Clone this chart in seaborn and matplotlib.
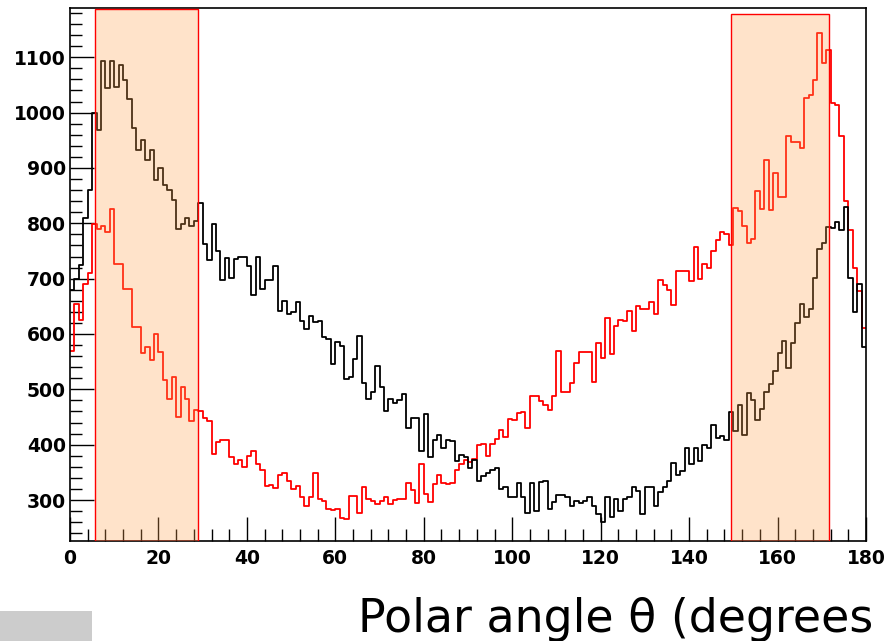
import numpy as np
import pandas as pd
import matplotlib
matplotlib.use("Agg")
import matplotlib.pyplot as plt
import seaborn as sns
from matplotlib.patches import Rectangle
from matplotlib.ticker import MultipleLocator

# 1 degree bins from 0 to 180
bin_edges = np.arange(0, 181, 1)

# counts per bin, black histogram
black_counts = [
    680, 700, 725, 810, 860, 1000, 968, 1094, 1044, 1094,
    1047, 1086, 1059, 1024, 972, 932, 950, 914, 932, 878,
    900, 870, 860, 843, 790, 799, 810, 796, 805, 836,
    763, 734, 799, 750, 698, 738, 702, 736, 740, 740,
    722, 670, 740, 682, 697, 697, 722, 642, 660, 637,
    639, 657, 624, 609, 633, 621, 624, 594, 591, 545,
    586, 579, 519, 523, 555, 597, 512, 482, 496, 543,
    504, 461, 482, 476, 480, 491, 430, 449, 449, 389,
    456, 377, 409, 417, 394, 409, 406, 370, 382, 377,
    358, 372, 334, 343, 349, 355, 358, 320, 323, 306,
    306, 330, 305, 276, 330, 280, 332, 334, 284, 297,
    309, 309, 306, 290, 299, 294, 298, 305, 290, 275,
    260, 306, 269, 302, 281, 302, 305, 324, 317, 275,
    323, 324, 290, 315, 324, 334, 367, 345, 353, 394,
    365, 394, 370, 400, 394, 435, 412, 415, 409, 459,
    425, 472, 417, 494, 481, 445, 464, 496, 509, 533,
    565, 588, 539, 584, 620, 655, 631, 646, 702, 753,
    765, 794, 791, 803, 788, 829, 702, 640, 690, 577,
]

# counts per bin, red histogram
red_counts = [
    570, 655, 625, 690, 710, 799, 790, 796, 784, 825,
    726, 726, 682, 682, 613, 613, 565, 577, 553, 600,
    567, 516, 483, 522, 450, 504, 483, 442, 462, 460,
    449, 443, 383, 404, 408, 408, 377, 365, 372, 359,
    380, 389, 365, 355, 326, 327, 321, 345, 348, 335,
    320, 326, 305, 290, 305, 348, 302, 299, 284, 282,
    284, 268, 265, 308, 308, 277, 323, 301, 298, 293,
    298, 305, 292, 300, 302, 302, 331, 319, 295, 366,
    311, 296, 329, 345, 331, 329, 331, 355, 365, 372,
    368, 375, 399, 401, 380, 401, 411, 427, 414, 447,
    445, 458, 459, 431, 488, 488, 479, 471, 463, 488,
    569, 495, 495, 511, 547, 567, 567, 567, 513, 584,
    557, 629, 563, 614, 625, 623, 642, 606, 651, 646,
    646, 657, 636, 697, 688, 679, 652, 714, 714, 714,
    696, 757, 700, 727, 720, 750, 770, 784, 781, 760,
    828, 823, 796, 764, 772, 858, 825, 914, 824, 890,
    848, 848, 958, 947, 947, 936, 1026, 1032, 1059, 1144,
    1089, 1114, 1018, 1014, 958, 840, 788, 719, 677, 611,
]

# shaded angle windows: (theta_min, theta_max, y_min, y_max)
windows = [(5.7, 29.0, 226, 1188), (149.5, 171.7, 226, 1179)]

y_range = (226, 1189)

sns.set_style("ticks")
plt.rcParams['font.family'] = ['DejaVu Sans']
plt.rcParams['text.color'] = 'black'
plt.rcParams['xtick.color'] = 'black'
plt.rcParams['ytick.color'] = 'black'

df = pd.DataFrame({'theta': bin_edges[:-1] + 0.5,
                   'black': black_counts,
                   'red': red_counts})

fig = plt.figure(figsize=(8.87, 6.41), dpi=100)
ax = fig.add_axes([70/887, 1 - 541/641, 796/887, 533/641])

sns.histplot(data=df, x='theta', weights='red', binwidth=1, binrange=(0, 180),
             element='step', fill=False, color='red', linewidth=1.3, ax=ax)
sns.histplot(data=df, x='theta', weights='black', binwidth=1, binrange=(0, 180),
             element='step', fill=False, color='black', linewidth=1.3, ax=ax)

for x0, x1, y0, y1 in windows:
    ax.add_patch(Rectangle((x0, y0), x1 - x0, y1 - y0,
                           facecolor=(1.0, 0.647, 0.314, 0.3),
                           edgecolor='red', linewidth=1.0, zorder=5))

ax.set_xlim(0, 180)
ax.set_ylim(*y_range)
ax.set_xlabel('')
ax.set_ylabel('')

ax.xaxis.set_major_locator(MultipleLocator(20))
ax.xaxis.set_minor_locator(MultipleLocator(4))
ax.yaxis.set_major_locator(MultipleLocator(100))
ax.yaxis.set_minor_locator(MultipleLocator(20))
ax.tick_params(which='both', direction='in', top=False, right=False, width=1.0,
               color='black', labelcolor='black')
ax.tick_params(which='major', length=17)
ax.tick_params(which='minor', length=8.5)
ax.tick_params(axis='y', pad=3)
ax.tick_params(axis='x', pad=6)
for lab in ax.get_xticklabels() + ax.get_yticklabels():
    lab.set_fontweight('bold')
    lab.set_fontsize(13.5)

for sp in ax.spines.values():
    sp.set_visible(True)
    sp.set_color('black')
    sp.set_linewidth(1.2)

fig.text(358/887, 1 - 632/641, 'Polar angle θ (degrees', fontsize=33,
         color='black', ha='left', va='baseline')

fig.patches.append(Rectangle((0, 0), 92/887, 30/641, transform=fig.transFigure,
                             facecolor='#cccccc', edgecolor='none'))

fig.savefig('out.png', dpi=100)
